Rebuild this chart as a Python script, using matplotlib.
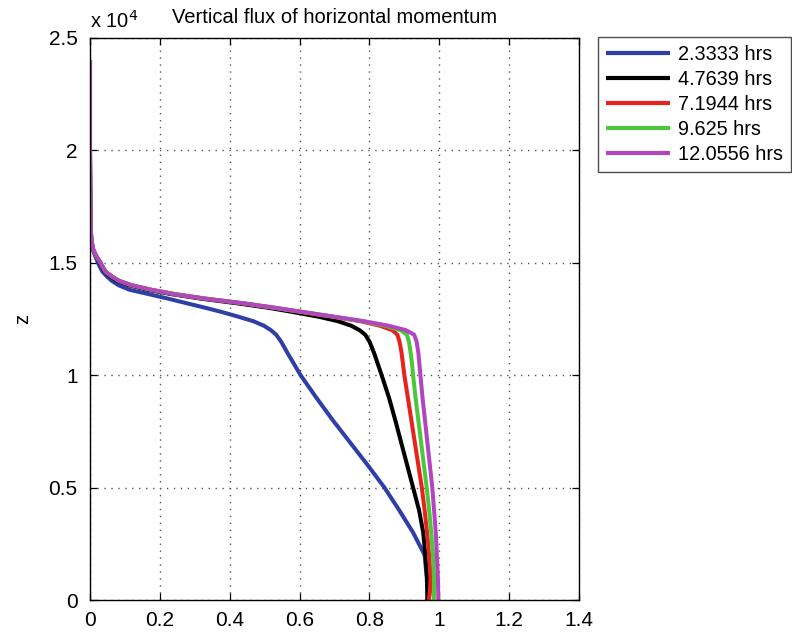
import matplotlib
matplotlib.use("Agg")
import matplotlib.pyplot as plt
from matplotlib.ticker import FuncFormatter, FixedLocator

plt.rcParams['font.family'] = ['Liberation Sans', 'DejaVu Sans']

# height levels (m)
z = [0, 300, 1000, 2000, 3000, 4000, 5000, 6000, 7000, 8000, 9000, 10000,
     10500, 11000, 11500, 11800, 12000, 12200, 12400, 12600, 12800, 13000,
     13200, 13400, 13600, 13800, 14000, 14200, 14400, 14600, 14800, 15000,
     15300, 15600, 16000, 16500, 17500, 20000, 24000]

# normalised vertical flux of horizontal momentum at each output time
flux_t1 = [0.966, 0.966, 0.964, 0.958, 0.925, 0.885, 0.843, 0.795, 0.745, 0.695,
           0.648, 0.603, 0.584, 0.565, 0.547, 0.533, 0.518, 0.498, 0.468, 0.425,
           0.380, 0.330, 0.277, 0.225, 0.170, 0.113, 0.082, 0.062, 0.048, 0.036,
           0.029, 0.023, 0.015, 0.008, 0.004, 0.002, 0.001, 0.0, 0.0]
flux_t2 = [0.966, 0.966, 0.965, 0.960, 0.954, 0.942, 0.925, 0.908, 0.891, 0.874,
           0.856, 0.835, 0.824, 0.813, 0.800, 0.788, 0.772, 0.748, 0.710, 0.655,
           0.585, 0.510, 0.420, 0.320, 0.235, 0.165, 0.112, 0.078, 0.058, 0.043,
           0.035, 0.028, 0.017, 0.009, 0.004, 0.002, 0.001, 0.0, 0.0]
flux_t3 = [0.970, 0.973, 0.975, 0.971, 0.965, 0.958, 0.950, 0.940, 0.930, 0.920,
           0.910, 0.900, 0.896, 0.892, 0.886, 0.880, 0.866, 0.830, 0.775, 0.695,
           0.610, 0.525, 0.435, 0.332, 0.244, 0.175, 0.119, 0.083, 0.062, 0.045,
           0.037, 0.030, 0.018, 0.009, 0.004, 0.002, 0.001, 0.0, 0.0]
flux_t4 = [0.984, 0.985, 0.985, 0.982, 0.977, 0.971, 0.964, 0.956, 0.948, 0.940,
           0.932, 0.925, 0.922, 0.918, 0.913, 0.907, 0.890, 0.845, 0.780, 0.698,
           0.613, 0.528, 0.438, 0.334, 0.245, 0.176, 0.120, 0.083, 0.062, 0.045,
           0.037, 0.030, 0.018, 0.009, 0.004, 0.002, 0.001, 0.0, 0.0]
flux_t5 = [0.997, 0.997, 0.996, 0.993, 0.990, 0.985, 0.980, 0.973, 0.966, 0.959,
           0.952, 0.946, 0.943, 0.940, 0.935, 0.928, 0.905, 0.855, 0.785, 0.700,
           0.615, 0.530, 0.440, 0.334, 0.245, 0.176, 0.120, 0.083, 0.062, 0.045,
           0.037, 0.030, 0.018, 0.009, 0.004, 0.002, 0.001, 0.0, 0.0]

labels = ['2.3333 hrs', '4.7639 hrs', '7.1944 hrs', '9.625 hrs', '12.0556 hrs']
colors = ['#2f3fa8', '#000000', '#e8231e', '#4cc63c', '#b246bf']
series = [flux_t1, flux_t2, flux_t3, flux_t4, flux_t5]

x_ticks = [0, 0.2, 0.4, 0.6, 0.8, 1.0, 1.2, 1.4]
z_ticks = [0, 5000, 10000, 15000, 20000, 25000]

fig = plt.figure(figsize=(7.92, 6.33), dpi=100)
ax = fig.add_axes([90 / 792, 33 / 633, 489 / 792, 562 / 633])

for vals, lab, col in zip(series, labels, colors):
    ax.plot(vals, z, color=col, lw=2.9, label=lab, solid_capstyle='butt')

ax.set_xlim(0, 1.4)
ax.set_ylim(0, 25000)
ax.xaxis.set_major_locator(FixedLocator(x_ticks))
ax.yaxis.set_major_locator(FixedLocator(z_ticks))
ax.xaxis.set_major_formatter(FuncFormatter(lambda v, p: '%g' % v))
ax.yaxis.set_major_formatter(FuncFormatter(lambda v, p: '%g' % (v / 1e4)))

ax.tick_params(direction='in', top=True, right=True, length=5, width=0.9,
               labelsize=15, colors='black')
ax.tick_params(axis='y', pad=9)
ax.tick_params(axis='x', pad=8)
for sp in ax.spines.values():
    sp.set_linewidth(1.0)
    sp.set_color('black')

ax.set_axisbelow(True)
ax.grid(True, color='#555555', linestyle=(0, (1, 4)), linewidth=1.0)

ax.set_title('Vertical flux of horizontal momentum', fontsize=14.5, pad=11)
ax.text(0.0, 1.018, r'x 10$^{4}$', transform=ax.transAxes, fontsize=14.5,
        ha='left', va='baseline')
ax.set_ylabel('z', fontsize=14.5)
ax.yaxis.set_label_coords(-0.118, 0.5)

leg = ax.legend(loc='upper left', bbox_to_anchor=(1.039, 1.002), fontsize=14.3,
                frameon=True, fancybox=False, shadow=False,
                handlelength=3.2, handletextpad=0.42, labelspacing=0.3,
                borderpad=0.4, borderaxespad=0.0)
leg.get_frame().set_edgecolor('#222222')
leg.get_frame().set_linewidth(1.0)
for line in leg.get_lines():
    line.set_linewidth(3.0)

fig.savefig('out.png', dpi=100, facecolor='white')
